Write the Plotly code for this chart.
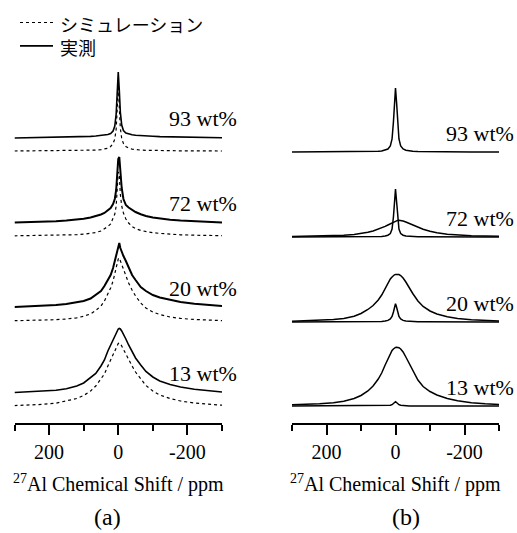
import plotly.graph_objects as go

# ---------------- data (heights, in plot units) ----------------
ppm = [300, 260, 220, 180, 150, 120, 100, 80, 65, 50, 40, 30, 22, 15, 10, 6, 3, 0,
       -3, -6, -10, -15, -22, -30, -40, -50, -65, -80, -100, -120, -150, -180, -220, -260, -300]

samples = ["93 wt%", "72 wt%", "20 wt%", "13 wt%"]
legend_names = ["シミュレーション", "実測"]

# (a) measured (solid)
meas_93 = [0, 0.2, 0.3, 0.5, 0.7, 1, 1.3, 1.6, 2, 2.4, 2.8, 3.5, 4.5, 7, 12, 24, 45, 66,
           48, 26, 13, 7.5, 5, 4, 3.3, 2.8, 2.3, 2, 1.7, 1.4, 1.1, 0.9, 0.6, 0.4, 0.3]
meas_72 = [0.5, 0.8, 1.2, 1.8, 2.5, 3.3, 4.2, 5.5, 6.8, 8.5, 10, 12.5, 15, 19, 24, 33, 48, 64,
           66, 50, 35, 24, 18, 15.5, 13, 11, 8.8, 7, 5.5, 4.4, 3.3, 2.5, 1.7, 1, 0.6]
meas_20 = [1, 1.5, 2, 3, 4, 5.5, 7, 9.5, 13, 17, 22, 28, 33, 40, 47, 53, 58, 62,
           65, 60, 56, 52, 47, 40, 33, 28, 21, 17, 13, 10.5, 8, 6, 4.2, 3, 2]
meas_13 = [0.5, 1, 1.7, 2.7, 4.3, 7, 10, 15, 19.5, 27, 33, 42, 48, 54, 58, 61, 63, 64,
           64.5, 64, 62, 59, 54, 48, 41, 35, 28, 21.5, 16, 12, 8.5, 6, 3.7, 2, 1]

# (a) simulation (dotted)
sim_93 = [0, 0.1, 0.15, 0.2, 0.3, 0.4, 0.5, 0.7, 0.9, 1.3, 1.9, 2.8, 4.5, 7.5, 12, 22, 42, 66,
          44, 23, 12.5, 7.5, 4.5, 2.8, 1.9, 1.3, 0.9, 0.7, 0.5, 0.4, 0.3, 0.2, 0.15, 0.1, 0]
sim_72 = [0.2, 0.3, 0.5, 0.7, 0.9, 1.3, 1.8, 2.6, 3.5, 5, 7, 9.5, 12, 17, 22, 30, 44, 64,
          62, 42, 30, 23, 17, 13, 9.5, 7.5, 5.5, 4.3, 3.3, 2.6, 1.8, 1.2, 0.8, 0.5, 0.3]
sim_20 = [0.3, 0.5, 0.8, 1.3, 2, 3.2, 4.8, 7, 10.5, 15, 20, 27, 33, 40, 48, 54, 59, 62,
          63, 60, 56, 51, 45, 38, 31, 25, 18, 13, 9, 6.5, 4, 2.6, 1.5, 0.8, 0.4]
sim_13 = [0.4, 0.9, 1.6, 2.8, 4.8, 7.5, 10.5, 15, 20, 26.5, 32, 40, 46, 52, 56, 59, 61.5, 62.5,
          63, 62.5, 60, 56.5, 51.5, 46, 40, 34, 27, 20.5, 15, 11, 7.5, 5, 3, 1.7, 0.8]

# (b) fitted components
narrow_93 = [0, 0, 0, 0, 0.1, 0.15, 0.2, 0.3, 0.4, 0.7, 1, 1.8, 3, 6, 13, 30, 50, 64,
             50, 30, 13, 6, 3, 1.8, 1, 0.7, 0.4, 0.3, 0.2, 0.15, 0.1, 0, 0, 0, 0]
narrow_72 = [0, 0, 0, 0, 0, 0.1, 0.1, 0.2, 0.3, 0.4, 0.6, 1, 1.8, 3.5, 8, 20, 36, 48,
             36, 20, 8, 3.5, 1.8, 1, 0.6, 0.4, 0.3, 0.2, 0.1, 0.1, 0, 0, 0, 0, 0]
broad_72 = [0.5, 0.7, 0.9, 1.3, 1.8, 2.6, 3.5, 4.7, 6, 7.7, 9, 10.6, 12, 13.3, 14.2, 14.9, 15.4, 15.9,
            16.3, 16.6, 16.7, 16.6, 16, 15, 13.5, 12, 9.8, 7.8, 5.7, 4.2, 2.8, 2, 1.3, 0.9, 0.7]
narrow_20 = [0, 0, 0, 0, 0, 0, 0.1, 0.2, 0.3, 0.4, 0.6, 1, 1.6, 3, 5.5, 10, 15, 18.3,
             15, 10, 5.5, 3, 1.6, 1, 0.6, 0.4, 0.3, 0.2, 0.1, 0, 0, 0, 0, 0, 0]
broad_20 = [0.8, 1.1, 1.6, 2.4, 3.6, 5.8, 8.5, 12.5, 16.5, 22, 27, 34, 39, 43, 45, 46.5, 47.2, 47.6,
            47.7, 47.7, 47.5, 46.5, 44, 40, 34, 28.5, 21, 15.5, 11, 8, 5.2, 3.6, 2.3, 1.5, 1]
narrow_13 = [0, 0, 0, 0, 0, 0, 0, 0, 0, 0, 0.1, 0.2, 0.4, 0.7, 1.3, 2.3, 3.5, 4.3,
             3.5, 2.3, 1.3, 0.7, 0.4, 0.2, 0.1, 0, 0, 0, 0, 0, 0, 0, 0, 0, 0]
broad_13 = [1.2, 1.6, 2.2, 3.2, 4.8, 7.5, 10.5, 15, 20, 27, 33, 41, 47.5, 52.5, 55.5, 57, 58, 58.5,
            58.7, 58.7, 58.3, 57, 54, 49, 42, 35, 26, 19.5, 14.5, 11, 7.5, 5.3, 3.3, 2.2, 1.5]

major_ticks = [200, 0, -200]
major_text = ["200", "0", "-200"]
minor_ticks = [300, 100, -100, -300]

# ---------------- layout constants ----------------
W, H = 517, 533
H_PLOT = 423                 # plot area height (px) -> 1 y unit = 1 px
off_meas = [285, 200, 115, 30]
off_sim = [272, 187, 102, 17]
off_fit = [271, 186, 101, 17]


def px_x(page_x):
    return page_x / W


def px_y(page_y):
    return (H_PLOT - page_y) / H_PLOT


SERIF = "Liberation Serif, Times New Roman, serif"
CJK = "Noto Sans CJK JP"

fig = go.Figure()

meas = [meas_93, meas_72, meas_20, meas_13]
sims = [sim_93, sim_72, sim_20, sim_13]
meas_w = [1.6, 2.0, 2.0, 1.6]

for i in range(4):
    fig.add_trace(go.Scatter(
        x=ppm, y=[off_sim[i] + v for v in sims[i]], mode="lines",
        line=dict(color="black", width=1.2, dash="dot"),
        name=legend_names[0], showlegend=False,
        xaxis="x", yaxis="y", hoverinfo="skip"))
    fig.add_trace(go.Scatter(
        x=ppm, y=[off_meas[i] + v for v in meas[i]], mode="lines",
        line=dict(color="black", width=meas_w[i]),
        name=legend_names[1], showlegend=False,
        xaxis="x", yaxis="y", hoverinfo="skip"))

fits = [[narrow_93], [narrow_72, broad_72], [narrow_20, broad_20], [narrow_13, broad_13]]
for i in range(4):
    for comp in fits[i]:
        fig.add_trace(go.Scatter(
            x=ppm, y=[off_fit[i] + v for v in comp], mode="lines",
            line=dict(color="black", width=1.5),
            showlegend=False, xaxis="x2", yaxis="y", hoverinfo="skip"))

axis_common = dict(
    range=[300, -300], showgrid=False, zeroline=False, showline=True,
    linecolor="black", linewidth=1.5, ticks="outside", ticklen=10, tickwidth=1.5,
    tickcolor="black", tickmode="array", tickvals=major_ticks, ticktext=major_text,
    tickfont=dict(family=SERIF, size=20, color="black"),
    minor=dict(tickmode="array", tickvals=minor_ticks, ticks="outside", ticklen=6,
               tickwidth=1.5, tickcolor="black"),
    anchor="y", fixedrange=True,
)

annotations = []
shapes = []
for i, s in enumerate(samples):
    annotations.append(dict(x=-142, y=off_meas[i] + 20, xref="x", yref="y", text=s,
                            showarrow=False, xanchor="left", yanchor="middle",
                            font=dict(family=SERIF, size=22, color="black")))
    annotations.append(dict(x=-142, y=off_fit[i] + 19, xref="x2", yref="y", text=s,
                            showarrow=False, xanchor="left", yanchor="middle",
                            font=dict(family=SERIF, size=22, color="black")))

for ax, lx, lab in [("x", 32, "(a)"), ("x2", -29, "(b)")]:
    annotations.append(dict(x=0, y=px_y(483), xref=ax, yref="paper",
                            text="<sup>27</sup>Al Chemical Shift / ppm", showarrow=False,
                            xanchor="center", yanchor="middle",
                            font=dict(family=SERIF, size=20, color="black")))
    annotations.append(dict(x=lx, y=px_y(517), xref=ax, yref="paper", text=lab,
                            showarrow=False, xanchor="center", yanchor="middle",
                            font=dict(family=SERIF, size=24, color="black")))

# manual legend (top-left): line samples + one two-line text block
LEG_FONT = 18
row_y = [22.5, 22.5 + 1.3 * LEG_FONT]
for dash, ly in zip(["dot", "solid"], row_y):
    shapes.append(dict(type="line", xref="paper", yref="paper",
                       x0=px_x(20), x1=px_x(53), y0=px_y(ly), y1=px_y(ly),
                       line=dict(color="black", width=1.2 if dash == "dot" else 1.6, dash=dash)))
annotations.append(dict(x=px_x(58), y=px_y((row_y[0] + row_y[1]) / 2 + 1), xref="paper", yref="paper",
                        text="<br>".join(legend_names), align="left",
                        showarrow=False, xanchor="left", yanchor="middle",
                        font=dict(family=CJK, size=LEG_FONT, color="black")))

fig.update_layout(
    width=W, height=H,
    margin=dict(l=0, r=0, t=0, b=H - H_PLOT),
    paper_bgcolor="white", plot_bgcolor="white",
    xaxis=dict(domain=[px_x(14.5), px_x(222)], **axis_common),
    xaxis2=dict(domain=[px_x(292), px_x(499)], **axis_common),
    yaxis=dict(range=[0, H_PLOT], visible=False, fixedrange=True, domain=[0, 1]),
    showlegend=False,
    annotations=annotations,
    shapes=shapes,
)

fig.write_html(
    "out.html",
    config={"displayModeBar": False},
    post_script="document.body.style.margin='0';document.body.style.overflow='hidden';",
)
